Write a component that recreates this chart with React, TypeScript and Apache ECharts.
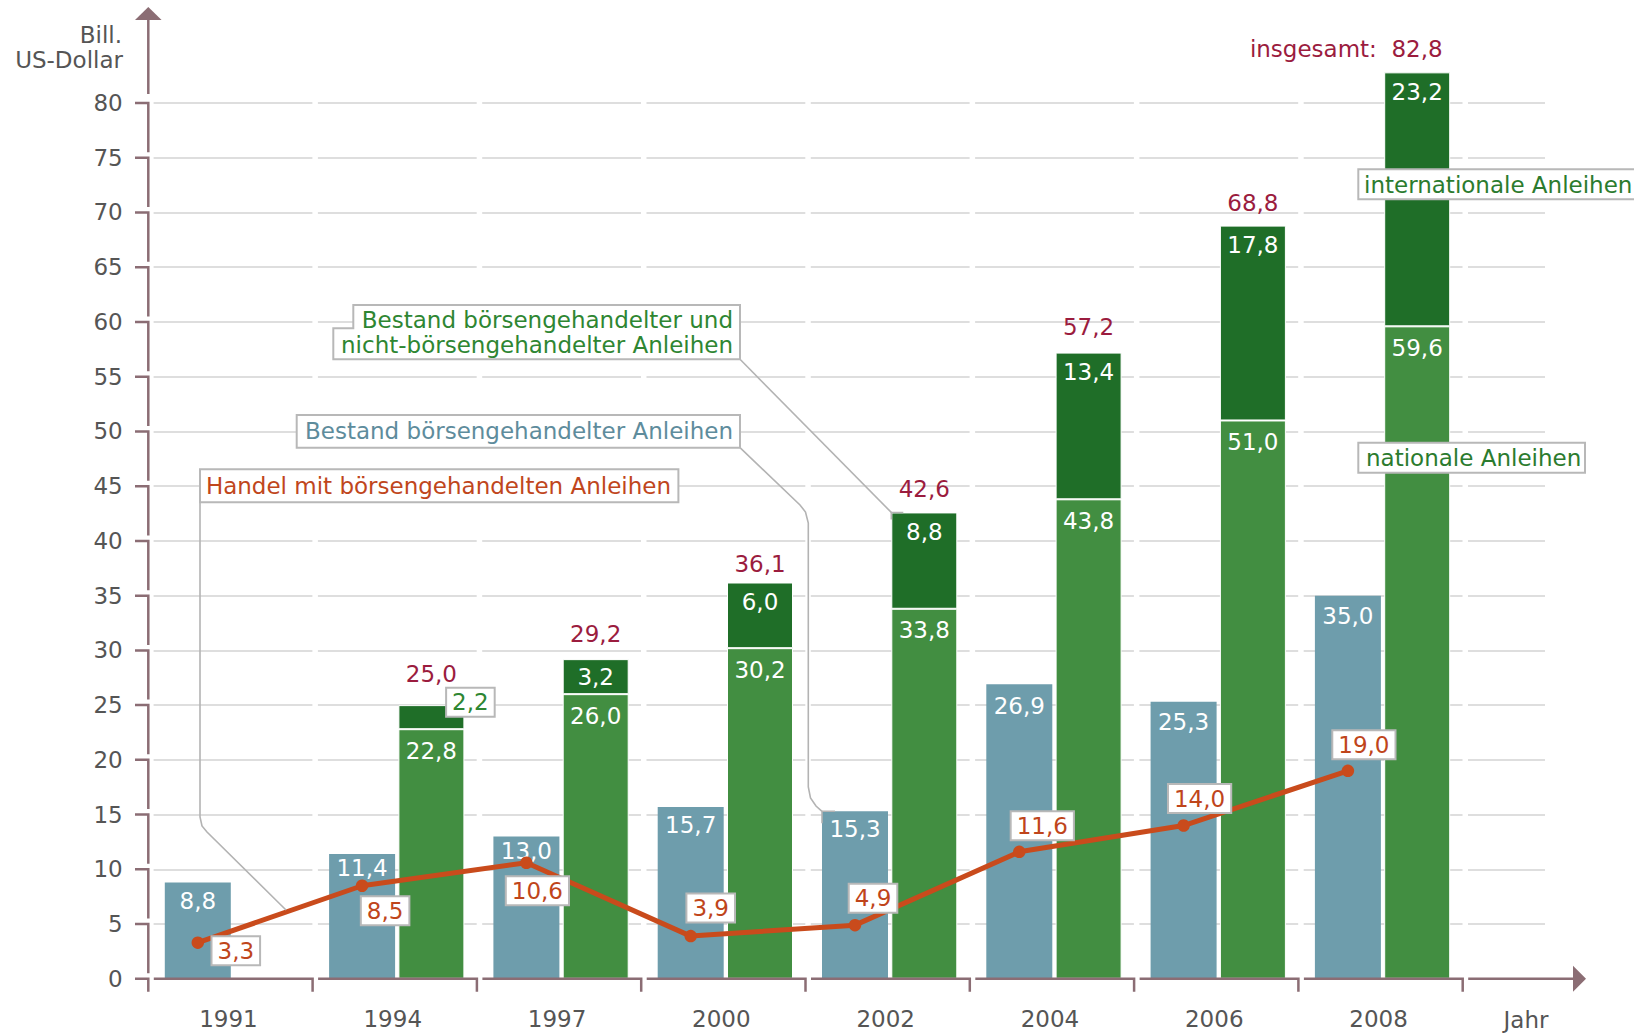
import React, { useEffect, useRef } from 'react';
import * as echarts from 'echarts';

// ---------------- data ----------------
const years = ['1991', '1994', '1997', '2000', '2002', '2004', '2006', '2008'];
const boerse = [8.8, 11.4, 13.0, 15.7, 15.3, 26.9, 25.3, 35.0];
const national: (number | null)[] = [null, 22.8, 26.0, 30.2, 33.8, 43.8, 51.0, 59.6];
const international: (number | null)[] = [null, 2.2, 3.2, 6.0, 8.8, 13.4, 17.8, 23.2];
const totals: (number | null)[] = [null, 25.0, 29.2, 36.1, 42.6, 57.2, 68.8, 82.8];
const handel = [3.3, 8.5, 10.6, 3.9, 4.9, 11.6, 14.0, 19.0];
const yMin = 0;
const yMax = 80;
const yStep = 5;

// ---------------- layout ----------------
const FONT = '"DejaVu Sans", Verdana, sans-serif';
const NUM_FS = 23;
const AX = 148.3; // x of y axis
const BAR_SHIFT = 2; // bars sit slightly right of the category centres
const Y0 = 978.8; // y of value 0
const YTOP = 103; // y of value 80
const UNIT = (Y0 - YTOP) / (yMax - yMin);
const CATW = 164.3;
const PLOT_W = CATW * years.length;
const BAR_W = 66;
const GAP_RATIO = 0.05;
const BLUE_SHIFT = -(BAR_W + BAR_W * GAP_RATIO) / 2;
const GRID_RIGHT = 1545;
const yPx = (v: number) => Y0 - (v - yMin) * UNIT;
const catCenter = (i: number) => AX + BAR_SHIFT + (i + 0.5) * CATW;

const handelOffsets = [[38, 8], [23, 25], [11, 28], [20, -28], [18, -27], [23, -26], [16, -27], [16, -26]];
const totalDistances = [0, 20, 14, 7, 12, 14, 11, 10];
const blueDistances = [7, 3, 3, 7, 6, 10, 9, 9];

const AXC = '#8b6d74';
const LEADER = '#b3b3b3';
const BOXB = '#b8b8b8';
const fmt = (v: number) => v.toFixed(1).replace('.', ',');

function buildGraphic() {
  const els: any[] = [];
  const axisStyle = { stroke: AXC, lineWidth: 2.5, fill: null };
  // y axis
  els.push({ type: 'polygon', z: 50, shape: { points: [[AX - 13.3, 20], [AX + 13.3, 20], [AX, 7]] }, style: { fill: AXC } });
  els.push({ type: 'polyline', z: 50, shape: { points: [[AX, 20], [AX, yPx(yMax) - 9]] }, style: axisStyle });
  for (let v = yMax; v >= yMin; v -= yStep) {
    const y = yPx(v);
    const yEnd = v > yMin ? yPx(v - yStep) - 5.5 : Y0 + 13;
    els.push({ type: 'polyline', z: 50, shape: { points: [[AX - 13.3, y], [AX, y], [AX, yEnd]] }, style: axisStyle });
  }
  // x axis
  for (let i = 0; i < years.length; i++) {
    const L = AX + i * CATW;
    const R = L + CATW;
    els.push({ type: 'polyline', z: 50, shape: { points: [[L + 5.5, Y0], [R, Y0], [R, Y0 + 13]] }, style: axisStyle });
  }
  els.push({ type: 'polyline', z: 50, shape: { points: [[AX + PLOT_W + 5.5, Y0], [1574, Y0]] }, style: axisStyle });
  els.push({ type: 'polygon', z: 50, shape: { points: [[1573, Y0 - 13], [1573, Y0 + 13], [1586, Y0]] }, style: { fill: AXC } });

  // axis names
  els.push({ type: 'text', z: 50, x: 122, y: 35, style: { text: 'Bill.', fill: '#555', fontSize: 23, fontFamily: FONT, align: 'right', verticalAlign: 'middle' } });
  els.push({ type: 'text', z: 50, x: 123, y: 60, style: { text: 'US-Dollar', fill: '#555', fontSize: 23, fontFamily: FONT, align: 'right', verticalAlign: 'middle' } });
  els.push({ type: 'text', z: 50, x: 1526, y: 1020, style: { text: 'Jahr', fill: '#555', fontSize: 23, fontFamily: FONT, align: 'center', verticalAlign: 'middle' } });

  const lead = { stroke: LEADER, lineWidth: 1.6, fill: null };
  // leader 1 -> top-left of 2002 international bar
  const gi = 4;
  const gx = catCenter(gi) + (BAR_W * GAP_RATIO) / 2;
  const gy = yPx(totals[gi] as number);
  els.push({ type: 'polyline', z: 40, shape: { points: [[740, 359.3], [gx, gy]] }, style: lead });
  els.push({ type: 'polyline', z: 40, shape: { points: [[gx, gy + 7], [gx, gy], [gx + 12, gy]] }, style: lead });
  // leader 2 -> top-left of 2002 blue bar
  const bx = catCenter(gi) - (BAR_W * GAP_RATIO) / 2 - BAR_W;
  const by = yPx(boerse[gi]);
  els.push({ type: 'polyline', z: 40, shape: { points: [[740, 447.7], [800, 505], [805.5, 512], [808.3, 523], [808.3, 787], [810.5, 798], [816, 806], [bx, by]] }, style: lead });
  els.push({ type: 'polyline', z: 40, shape: { points: [[bx, by + 12], [bx, by], [bx + 13, by]] }, style: lead });
  // leader 3 -> line
  els.push({ type: 'polyline', z: 40, shape: { points: [[200, 502.3], [200, 817], [202, 826], [207, 832], [286, 910]] }, style: lead });

  // annotation boxes
  els.push({ type: 'polygon', z: 45, shape: { points: [[353.3, 305], [740, 305], [740, 359.3], [333.3, 359.3], [333.3, 328.3], [353.3, 328.3]] }, style: { fill: '#fff', stroke: BOXB, lineWidth: 2 } });
  els.push({ type: 'text', z: 46, x: 733, y: 320, style: { text: 'Bestand börsengehandelter und', fill: '#2e8632', fontSize: 23, fontFamily: FONT, align: 'right', verticalAlign: 'middle' } });
  els.push({ type: 'text', z: 46, x: 733, y: 345, style: { text: 'nicht-börsengehandelter Anleihen', fill: '#2e8632', fontSize: 23, fontFamily: FONT, align: 'right', verticalAlign: 'middle' } });

  els.push({ type: 'rect', z: 45, shape: { x: 296.7, y: 415, width: 443.3, height: 32.7 }, style: { fill: '#fff', stroke: BOXB, lineWidth: 2 } });
  els.push({ type: 'text', z: 46, x: 733, y: 431, style: { text: 'Bestand börsengehandelter Anleihen', fill: '#5e8c9c', fontSize: 23, fontFamily: FONT, align: 'right', verticalAlign: 'middle' } });

  els.push({ type: 'rect', z: 45, shape: { x: 200, y: 469.3, width: 478.4, height: 33 }, style: { fill: '#fff', stroke: BOXB, lineWidth: 2 } });
  els.push({ type: 'text', z: 46, x: 671, y: 486, style: { text: 'Handel mit börsengehandelten Anleihen', fill: '#c0461c', fontSize: 23, fontFamily: FONT, align: 'right', verticalAlign: 'middle' } });

  els.push({ type: 'rect', z: 45, shape: { x: 1358.3, y: 169.3, width: 290, height: 30 }, style: { fill: '#fff', stroke: BOXB, lineWidth: 2 } });
  els.push({ type: 'text', z: 46, x: 1364, y: 184.8, style: { text: 'internationale Anleihen', fill: '#2b7b2e', fontSize: 23, fontFamily: FONT, align: 'left', verticalAlign: 'middle' } });

  els.push({ type: 'rect', z: 45, shape: { x: 1358.3, y: 442.7, width: 226.7, height: 30 }, style: { fill: '#fff', stroke: BOXB, lineWidth: 2 } });
  els.push({ type: 'text', z: 46, x: 1366, y: 458, style: { text: 'nationale Anleihen', fill: '#2b7b2e', fontSize: 23, fontFamily: FONT, align: 'left', verticalAlign: 'middle' } });
  return els;
}

function buildOption(): any {
  const boxLabel = {
    backgroundColor: '#fff',
    borderColor: BOXB,
    borderWidth: 2,
    padding: [2, 5, 2, 5],
    lineHeight: 23,
  };
  const gap = GAP_RATIO * 100 + '%';
  return {
    animation: false,
    textStyle: { fontFamily: FONT },
    grid: [
      // bars
      { left: AX + BAR_SHIFT, top: YTOP, width: PLOT_W, height: Y0 - YTOP },
      // trade line (points centred on the blue bars)
      { left: AX + BAR_SHIFT + BLUE_SHIFT, top: YTOP, width: PLOT_W, height: Y0 - YTOP },
      // dashed gridlines
      { left: AX, top: YTOP, width: GRID_RIGHT - AX, height: Y0 - YTOP - yStep * UNIT },
      // axis labels
      { left: AX - 2, top: YTOP, width: PLOT_W, height: Y0 - YTOP },
    ],
    xAxis: [
      { type: 'category', gridIndex: 0, data: years, show: false },
      { type: 'category', gridIndex: 1, data: years, show: false },
      { type: 'category', gridIndex: 2, data: [''], show: false },
      {
        type: 'category', gridIndex: 3, data: years,
        axisLine: { show: false }, axisTick: { show: false },
        axisLabel: { color: '#555', fontSize: NUM_FS, margin: 29, fontFamily: FONT },
      },
    ],
    yAxis: [
      { type: 'value', gridIndex: 0, min: yMin, max: yMax, show: false },
      { type: 'value', gridIndex: 1, min: yMin, max: yMax, show: false },
      {
        type: 'value', gridIndex: 2, min: yMin + yStep, max: yMax, interval: yStep,
        axisLine: { show: false }, axisTick: { show: false }, axisLabel: { show: false },
        splitLine: {
          show: true,
          lineStyle: { color: '#dedede', width: 2, type: [CATW - 5.5, 5.5], dashOffset: CATW - 5.5 },
        },
      },
      {
        type: 'value', gridIndex: 3, min: yMin, max: yMax, interval: yStep,
        axisLine: { show: false }, axisTick: { show: false }, splitLine: { show: false },
        axisLabel: { color: '#555', fontSize: NUM_FS, margin: 23.6, fontFamily: FONT },
      },
    ],
    series: [
      {
        type: 'bar', name: 'Bestand börsengehandelter Anleihen', xAxisIndex: 0, yAxisIndex: 0, clip: false,
        data: boerse.map((v, i) => ({ value: v, label: { distance: blueDistances[i] } })),
        barWidth: BAR_W, barGap: gap,
        itemStyle: { color: '#6e9dac' },
        label: { show: true, position: 'insideTop', color: '#fff', fontSize: NUM_FS, lineHeight: 23, formatter: (p: any) => fmt(p.value) },
      },
      {
        type: 'bar', name: 'nationale Anleihen', stack: 'g', xAxisIndex: 0, yAxisIndex: 0, clip: false,
        data: national, barWidth: BAR_W, barGap: gap,
        itemStyle: { color: '#428e41', borderColor: '#fff', borderWidth: 1 },
        label: { show: true, position: 'insideTop', distance: 10, color: '#fff', fontSize: NUM_FS, lineHeight: 23, formatter: (p: any) => fmt(p.value) },
      },
      {
        type: 'bar', name: 'internationale Anleihen', stack: 'g', xAxisIndex: 0, yAxisIndex: 0, clip: false,
        data: international.map((v, i) => {
          if (v == null) return null;
          if (i === 1) return { value: v, label: { ...boxLabel, position: 'inside', offset: [39, -15], color: '#2e8632' } };
          if (i === 2) return { value: v, label: { position: 'inside' } };
          return v;
        }),
        barWidth: BAR_W, barGap: gap,
        itemStyle: { color: '#1f6e28', borderColor: '#fff', borderWidth: 1 },
        label: { show: true, position: 'insideTop', distance: 8, color: '#fff', fontSize: NUM_FS, lineHeight: 23, formatter: (p: any) => fmt(p.value) },
      },
      {
        type: 'bar', name: 'insgesamt', stack: 'g', xAxisIndex: 0, yAxisIndex: 0, clip: false,
        data: totals.map((t, i) => {
          if (t == null) return null;
          const last = i === totals.length - 1;
          return {
            value: 0,
            label: last
              ? { distance: totalDistances[i] + 2, formatter: 'insgesamt:  ' + fmt(t), align: 'right', offset: [25.5, 0] }
              : { distance: totalDistances[i], formatter: fmt(t) },
          };
        }),
        barWidth: BAR_W, barGap: gap,
        itemStyle: { color: 'rgba(0,0,0,0)' },
        label: { show: true, position: 'top', color: '#9b1c3e', fontSize: NUM_FS, lineHeight: 23 },
        z: 6,
      },
      {
        type: 'line', name: 'Handel mit börsengehandelten Anleihen', xAxisIndex: 1, yAxisIndex: 1, clip: false,
        data: handel.map((v, i) => ({ value: v, label: { offset: handelOffsets[i] } })),
        symbol: 'circle', symbolSize: 12.5,
        lineStyle: { color: '#c94b1c', width: 5 },
        itemStyle: { color: '#c94b1c', borderWidth: 0 },
        label: { show: true, position: 'inside', color: '#bf451b', fontSize: NUM_FS, ...boxLabel, formatter: (p: any) => fmt(p.value) },
        z: 8,
      },
    ],
    graphic: buildGraphic(),
  };
}

export default function App() {
  const ref = useRef<HTMLDivElement>(null);
  useEffect(() => {
    const chart = echarts.init(ref.current as HTMLDivElement, null, { renderer: 'svg' });
    chart.setOption(buildOption());
    return () => chart.dispose();
  }, []);
  return <div ref={ref} style={{ position: 'absolute', left: 0, top: 0, width: 1634, height: 1035 }} />;
}
